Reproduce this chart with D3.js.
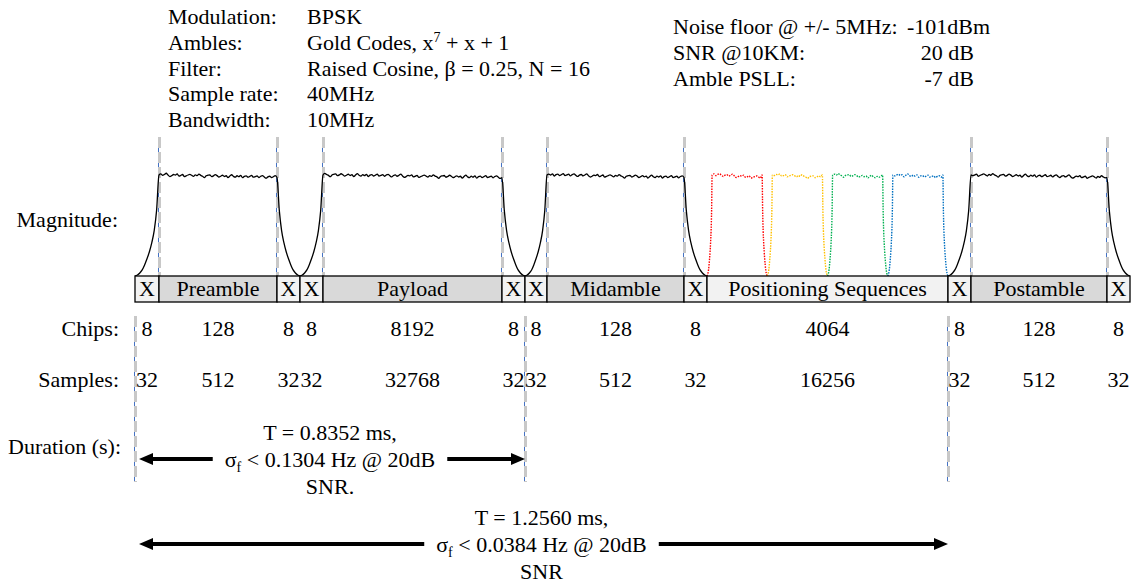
<!DOCTYPE html>
<html>
<head>
<meta charset="utf-8">
<script src="https://cdn.jsdelivr.net/npm/d3@7"></script>
<style>
  body { margin: 0; background: #fff; }
  svg text { font-family: "Liberation Serif", "Times New Roman", serif; font-size: 22px; fill: #000; }
</style>
</head>
<body>
<svg id="chart" width="1135" height="583"></svg>
<script>
// frame layout, in diagram units (not to scale with chips)
var segLabels = ["X", "Preamble", "X", "X", "Payload", "X", "X", "Midamble", "X", "Positioning Sequences", "X", "Postamble", "X"];
var segSpans  = [24, 118, 23, 23, 179, 23, 22, 137, 23, 241, 23, 136, 23];
var chips     = [8, 128, 8, 8, 8192, 8, 8, 128, 8, 4064, 8, 128, 8];
var samples   = [32, 512, 32, 32, 32768, 32, 32, 512, 32, 16256, 32, 512, 32];

var specLabels = ["Modulation:", "Ambles:", "Filter:", "Sample rate:", "Bandwidth:"];
var specValues = [
  [["BPSK"]],
  [["Gold Codes, x"], ["7", "sup"], [" + x + 1"]],
  [["Raised Cosine, \u03b2 = 0.25, N = 16"]],
  [["40MHz"]],
  [["10MHz"]]
];
var linkLabels = ["Noise floor @ +/- 5MHz:", "SNR @10KM:", "Amble PSLL:"];
var linkValues = ["-101dBm", "20 dB", "-7 dB"];

// edge of a filtered burst, magnitude at 0, .1, ... 1 of an X slot
var rampShape = [0, 0.01, 0.03, 0.06, 0.11, 0.17, 0.24, 0.33, 0.45, 0.65, 1.0];
// ripple on the flat top (magnitude units)
var ripple = [0.004, 0.012, -0.004, 0.009, 0.016, 0.002, -0.009, 0.005, 0.011, -0.002,
              0.007, 0.019, 0.001, -0.013, -0.004, 0.008, 0.003, 0.014, -0.006, 0.0,
              0.01, -0.011, -0.002, 0.006, 0.013, 0.004, -0.007, 0.009, 0.001, 0.017,
              0.005, -0.003, -0.016, 0.002, 0.008, 0.012, -0.005, 0.003, 0.015, 0.006,
              -0.008, 0.001, 0.011, -0.001, 0.007, -0.012, 0.004, 0.018, 0.002, -0.005,
              0.009, 0.0, 0.013, -0.009, 0.005, 0.01, -0.003, 0.006, 0.016, -0.002];
var posColors = ["#ff0000", "#ffc000", "#00b050", "#0070c0"];

var upperMarks = [1, 2, 4, 5, 7, 8, 11, 12];   // boundary indices
var lowerMarks = [0, 6, 10];

var durations = [
  { from: 0, to: 6,  lines: ["T = 0.8352 ms,", "SIG < 0.1304 Hz @ 20dB", "SNR."] },
  { from: 0, to: 10, lines: ["T = 1.2560 ms,", "SIG < 0.0384 Hz @ 20dB", "SNR"] }
];

var svg = d3.select("#chart");

var bounds = [0];
segSpans.forEach(function(s) { bounds.push(bounds[bounds.length - 1] + s); });

var x = d3.scaleLinear().domain([0, bounds[bounds.length - 1]]).range([135, 1130]);
var y = d3.scaleLinear().domain([0, 1]).range([276, 175]);

// ---- header text
var spec = svg.append("g");
specLabels.forEach(function(l, i) {
  var by = 24 + i * 25.8;
  spec.append("text").attr("x", 168).attr("y", by).text(l);
  var t = spec.append("text").attr("x", 307).attr("y", by);
  var prevSup = false;
  specValues[i].forEach(function(p) {
    var ts = t.append("tspan").text(p[0]);
    if (p[1] === "sup") {
      ts.style("font-size", "14px").attr("dy", -8);
    } else if (prevSup) {
      ts.attr("dy", 8);
    }
    prevSup = p[1] === "sup";
  });
});

linkLabels.forEach(function(l, i) {
  var by = 34 + i * 26;
  svg.append("text").attr("x", 673).attr("y", by).text(l);
  if (i === 0) {
    svg.append("text").attr("x", 907).attr("y", by).text(linkValues[i]);
  } else {
    svg.append("text").attr("x", 974).attr("y", by).attr("text-anchor", "end").text(linkValues[i]);
  }
});

// ---- row labels
svg.append("text").attr("x", 118).attr("y", 227).attr("text-anchor", "end").text("Magnitude:");
svg.append("text").attr("x", 119).attr("y", 336).attr("text-anchor", "end").text("Chips:");
svg.append("text").attr("x", 119).attr("y", 387).attr("text-anchor", "end").text("Samples:");
svg.append("text").attr("x", 8).attr("y", 454).text("Duration (s):");

// ---- marker lines
function marker(b, y0, y1) {
  var xx = x(bounds[b]);
  svg.append("line").attr("x1", xx - 0.5).attr("x2", xx - 0.5).attr("y1", y0).attr("y2", y1)
    .attr("stroke", "#4472c4").attr("stroke-width", 1);
  svg.append("line").attr("x1", xx + 0.5).attr("x2", xx + 0.5).attr("y1", y0).attr("y2", y1)
    .attr("stroke", "#c8c8c8").attr("stroke-width", 3).attr("stroke-dasharray", "11,4");
}
upperMarks.forEach(function(b) { marker(b, 137, 276); });
lowerMarks.forEach(function(b) { marker(b, 316, 482); });

// ---- waveforms
var line = d3.line()
  .x(function(d) { return x(d[0]); })
  .y(function(d) { return y(d[1]); })
  .curve(d3.curveMonotoneX);

function rampUp(u0, span) {
  return rampShape.map(function(m, j) { return [u0 + span * j / (rampShape.length - 1), m]; });
}
function rampDown(u0, span) {
  return rampShape.map(function(m, j) { return [u0 + span * j / (rampShape.length - 1), rampShape[rampShape.length - 1 - j]]; });
}
function flatTop(u0, u1, off) {
  var pts = [];
  var n = Math.floor((u1 - u0) / 1.8);
  for (var i = 1; i < n; i++) {
    var u = u0 + (u1 - u0) * i / n;
    pts.push([u, 1 + ripple[(i + off) % ripple.length] - 0.025 * i / n]);
  }
  return pts;
}

var wave = svg.append("g");
segLabels.forEach(function(lab, k) {
  if (lab === "X" || lab === "Positioning Sequences") return;
  var pts = rampUp(bounds[k - 1], segSpans[k - 1]);
  pts = pts.concat(flatTop(bounds[k], bounds[k + 1], k * 7));
  pts = pts.concat(rampDown(bounds[k + 1], segSpans[k + 1]).map(function(d, j) {
    return j === 0 ? [d[0], 0.975] : d;
  }));
  wave.append("path").attr("d", line(pts)).attr("fill", "none")
    .attr("stroke", "#000").attr("stroke-width", 1.3);
});

// positioning sequences: four short bursts
var ps = segLabels.indexOf("Positioning Sequences");
posColors.forEach(function(c, p) {
  var w = segSpans[ps] / posColors.length;
  var u0 = bounds[ps] + p * w;
  var edge = w * 0.085;
  var pts = rampUp(u0, edge)
    .concat(flatTop(u0 + edge, u0 + w - edge, p * 13))
    .concat(rampDown(u0 + w - edge, edge));
  wave.append("path").attr("d", line(pts)).attr("fill", "none")
    .attr("stroke", c).attr("stroke-width", 1.4).attr("stroke-dasharray", "1.5,1.2");
});

// ---- frame bar
var bar = svg.append("g").selectAll("g").data(segLabels).join("g");
bar.append("rect")
  .attr("x", function(d, i) { return x(bounds[i]); })
  .attr("y", 276)
  .attr("width", function(d, i) { return x(bounds[i + 1]) - x(bounds[i]); })
  .attr("height", 26)
  .attr("fill", function(d) { return (d === "X" || d === "Positioning Sequences") ? "#f2f2f2" : "#d9d9d9"; })
  .attr("stroke", "#000").attr("stroke-width", 1.3);
bar.append("text")
  .attr("x", function(d, i) { return x((bounds[i] + bounds[i + 1]) / 2); })
  .attr("y", 296)
  .attr("text-anchor", "middle")
  .text(function(d) { return d; });

// ---- chips / samples rows
svg.append("g").selectAll("text").data(chips).join("text")
  .attr("x", function(d, i) { return x((bounds[i] + bounds[i + 1]) / 2); })
  .attr("y", 336).attr("text-anchor", "middle")
  .text(function(d) { return d; });
svg.append("g").selectAll("text").data(samples).join("text")
  .attr("x", function(d, i) { return x((bounds[i] + bounds[i + 1]) / 2); })
  .attr("y", 387).attr("text-anchor", "middle")
  .text(function(d) { return d; });

// ---- duration arrows
function arrowHead(tipX, yy, dir) {
  var L = 14, H = 6;
  svg.append("path")
    .attr("d", "M" + tipX + "," + yy + "L" + (tipX - dir * L) + "," + (yy - H) + "L" + (tipX - dir * L) + "," + (yy + H) + "Z")
    .attr("fill", "#000");
}
var durY = [440, 525];
durations.forEach(function(d, i) {
  var x0 = x(bounds[d.from]) + 4, x1 = x(bounds[d.to]);
  var cx = (x(bounds[d.from]) + x(bounds[d.to])) / 2;
  var gw = 0;
  d.lines.forEach(function(l, j) {
    var t = svg.append("text").attr("x", cx).attr("y", durY[i] + j * 27).attr("text-anchor", "middle");
    if (l.indexOf("SIG") === 0) {
      t.append("tspan").text("\u03c3");
      t.append("tspan").text("f").style("font-size", "14px").attr("dy", 5);
      t.append("tspan").text(l.slice(3)).attr("dy", -5);
      gw = t.node().getComputedTextLength();
    } else {
      t.text(l);
    }
  });
  var ay = durY[i] + 19;
  var gap = 12;
  svg.append("line").attr("x1", x0 + 10).attr("x2", cx - gw / 2 - gap).attr("y1", ay).attr("y2", ay)
    .attr("stroke", "#000").attr("stroke-width", 4);
  svg.append("line").attr("x1", cx + gw / 2 + gap).attr("x2", x1 - 10).attr("y1", ay).attr("y2", ay)
    .attr("stroke", "#000").attr("stroke-width", 4);
  arrowHead(x0, ay, -1);
  arrowHead(x1, ay, 1);
});
</script>
</body>
</html>
